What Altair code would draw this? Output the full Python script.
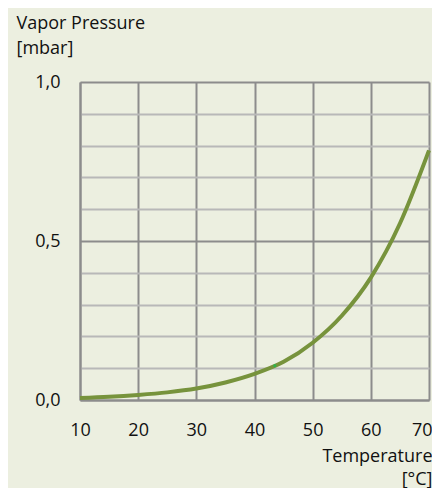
import altair as alt
import pandas as pd

temps = [10, 15, 20, 25, 30, 35, 40, 45, 50, 55, 60, 65, 70]
pressure = [0.006, 0.010, 0.016, 0.024, 0.036, 0.055, 0.082, 0.120, 0.180, 0.265, 0.385, 0.555, 0.785]
marker_t = [43.5]
marker_p = [0.108]
x_ticks = [10, 20, 30, 40, 50, 60, 70]
y_ticks = [0.0, 0.1, 0.2, 0.3, 0.4, 0.5, 0.6, 0.7, 0.8, 0.9, 1.0]

df = pd.DataFrame({"t": temps, "p": pressure})
dm = pd.DataFrame({"t": marker_t, "p": marker_p})

FONT = "Open Sans"
FS = 18
BG = "#ECEFE0"

x = alt.X("t:Q", scale=alt.Scale(domain=[10, 70], nice=False, zero=False),
          axis=alt.Axis(values=x_ticks, tickCount=20, ticks=False, grid=True, gridColor="#8c8c8c", gridWidth=2,
                        domainColor="#8c8c8c", domainWidth=2,
                        labelFont=FONT, labelFontSize=FS, labelColor="#111", labelBaseline="alphabetic",
                        labelPadding=35, labelFlush=False, labelOverlap=False,
                        labelAlign=alt.condition("datum.value == 70", alt.value("right"), alt.value("center")),
                        labelOffset=alt.condition("datum.value == 70", alt.value(3), alt.value(0)),
                        title=["Temperature", "[°C]"], titleFont=FONT, titleFontSize=FS,
                        titleFontWeight="normal", titleColor="#111", titleAlign="right",
                        titleBaseline="alphabetic", titleX=352, titleY=61, titleLineHeight=23))
y = alt.Y("p:Q", scale=alt.Scale(domain=[0, 1], nice=False),
          axis=alt.Axis(values=y_ticks, tickCount=20, ticks=False, grid=True,
                        gridColor=alt.condition("round(datum.value*10) % 5 == 0", alt.value("#8c8c8c"), alt.value("#b8b8b8")),
                        gridWidth=2, domainColor="#8c8c8c", domainWidth=2,
                        labelExpr="(round(datum.value*10) % 5 == 0) ? replace(format(datum.value, '.1f'), '.', ',') : ''",
                        labelFont=FONT, labelFontSize=FS, labelColor="#111", labelPadding=20,
                        labelBaseline="middle", labelFlush=False, labelOverlap=False,
                        title=["Vapor Pressure", "[mbar]"], titleFont=FONT, titleFontSize=FS,
                        titleFontWeight="normal", titleColor="#111", titleAngle=0, titleAlign="left",
                        titleBaseline="alphabetic", titleX=-64, titleY=-54, titleLineHeight=25))

line = alt.Chart(df).mark_line(color="#77933C", strokeWidth=4, interpolate="monotone").encode(x=x, y=y)
pt = alt.Chart(dm).mark_point(filled=True, color="#2fb34a", size=10, opacity=1).encode(x="t:Q", y="p:Q")

chart = alt.layer(line, pt).properties(
    width=349, height=318,
    background=BG,
    autosize=alt.AutoSizeParams(type="none"),
    padding={"left": 72, "top": 74, "right": 3, "bottom": 88},
).configure_view(stroke=None, fill=BG)

chart.save("out.html", embed_options={"renderer": "svg", "actions": False})
